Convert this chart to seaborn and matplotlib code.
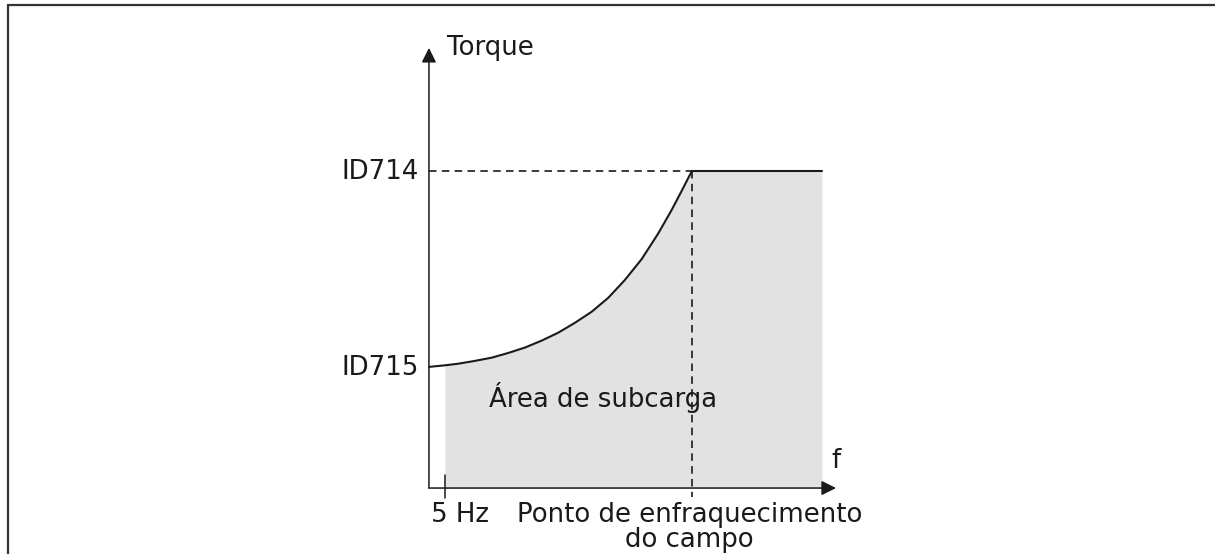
import numpy as np
import pandas as pd
import seaborn as sns
import matplotlib
matplotlib.use('Agg')
import matplotlib.pyplot as plt
from matplotlib.lines import Line2D

# schematic units: field weakening point = 100 on f, ID714 = 100 on torque
freq_curve = [0, 6.1, 11.1, 17.5, 23.8, 30.2, 36.5, 42.9, 49.2, 55.5, 61.9,
              68.2, 74.5, 80.9, 87.2, 92.3, 96.1, 100]
torque_curve = [38.2, 38.7, 39.2, 40.1, 41.1, 42.6, 44.3, 46.5, 49.0, 52.1, 55.6,
                60.0, 65.6, 72.2, 80.3, 87.7, 93.7, 100]
f_5hz = 6.1
f_weak = 100
f_end = 149.4
t_id715 = 38.2
t_id714 = 100
f_axis_max = 154.8
t_axis_max = 138.8

y_labels = ['ID714', 'ID715']
y_label_values = [t_id714, t_id715]
area_label = 'Área de subcarga'
x_title = 'f'
y_title = 'Torque'
x_label_5hz = '5 Hz'
x_label_weak = ['Ponto de enfraquecimento', 'do campo']

sns.set_style('white')
plt.rcParams['font.family'] = ['DejaVu Sans']
FS = 18.7
INK = '#1a1a1a'

fig = plt.figure(figsize=(12.15, 5.54), dpi=100)
ax = fig.add_axes([0, 0, 1, 1])
ax.set_xlim(-163.1, 298.9)
ax.set_ylim(-20.8, 153.9)
ax.set_axis_off()

# shaded underload area
curve = pd.DataFrame({'f': freq_curve, 'torque': torque_curve})
fill_part = curve[curve['f'] >= f_5hz]
fill_x = list(fill_part['f']) + [f_end]
fill_y = list(fill_part['torque']) + [t_id714]
ax.fill_between(fill_x, 0, fill_y, color='#e2e2e2', lw=0, zorder=1)

# limit curve
sns.lineplot(data=curve, x='f', y='torque', ax=ax, color=INK, lw=1.5, zorder=3,
             solid_joinstyle='round', solid_capstyle='round')
flat = pd.DataFrame({'f': [f_weak, f_end], 'torque': [t_id714, t_id714]})
sns.lineplot(data=flat, x='f', y='torque', ax=ax, color=INK, lw=1.5, zorder=3)

# dashed guides
dash = (0, (4.5, 3.2))
ax.plot([0, f_weak], [t_id714, t_id714], color=INK, lw=1.2, ls=dash, zorder=2)
ax.plot([f_weak, f_weak], [t_id714, -2.8], color=INK, lw=1.2, ls=dash, zorder=2)

# axes with arrows
arrow = dict(arrowstyle='-|>', color=INK, lw=1.1, mutation_scale=22, shrinkA=0, shrinkB=0)
ax.annotate('', xy=(f_axis_max, 0), xytext=(0, 0), arrowprops=arrow, zorder=4)
ax.annotate('', xy=(0, t_axis_max), xytext=(0, 0), arrowprops=arrow, zorder=4)

# 5 Hz tick
ax.plot([f_5hz, f_5hz], [4.1, -3.2], color=INK, lw=1.1, zorder=4)

# texts
ax.text(6.8, 136.6, y_title, fontsize=FS, ha='left', va='baseline', color=INK)
ax.text(153.0, 6.3, x_title, fontsize=FS, ha='left', va='baseline', color=INK)
for lab, val in zip(y_labels, y_label_values):
    ax.text(-4.0, val - 2.6, lab, fontsize=FS, ha='right', va='baseline', color=INK)
ax.text(22.8, 25.6, area_label, fontsize=FS, ha='left', va='baseline', color=INK)
ax.text(0.8, -10.7, x_label_5hz, fontsize=FS, ha='left', va='baseline', color=INK)
ax.text(99.0, -10.7, x_label_weak[0], fontsize=FS, ha='center', va='baseline', color=INK)
ax.text(99.0, -18.6, x_label_weak[1], fontsize=FS, ha='center', va='baseline', color=INK)

# frame lines of the original figure box
fig.add_artist(Line2D([8 / 1215, 8 / 1215], [0, 1 - 5 / 554], transform=fig.transFigure,
                      color='#333333', lw=1.6))
fig.add_artist(Line2D([8 / 1215, 1], [1 - 5 / 554, 1 - 5 / 554], transform=fig.transFigure,
                      color='#333333', lw=1.6))

fig.savefig('out.png', dpi=100)
